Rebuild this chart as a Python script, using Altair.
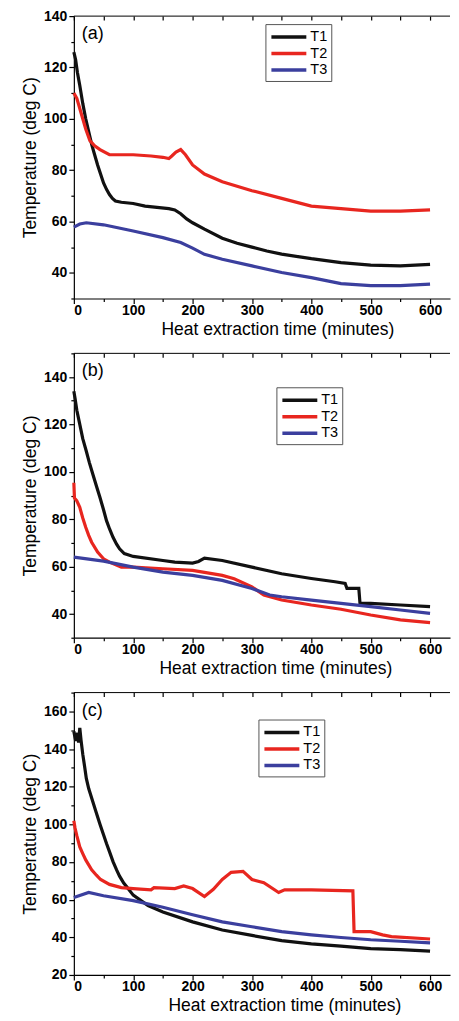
import altair as alt
import pandas as pd

FONT = "Liberation Sans, Arial, sans-serif"
series = ["T1", "T2", "T3"]
colors = ["#111111", "#e8261f", "#3b3f9e"]

# ---------------- Panel (a) ----------------
a_t1_t = [0, 3, 6, 10, 15, 20, 25, 30, 35, 40, 45, 50, 55, 60, 65, 70, 80, 100, 120, 140, 160, 170, 180, 190, 200, 220, 250, 275, 300, 325, 350, 400, 450, 500, 550, 600]
a_t1_v = [126, 123, 118, 113, 106, 100, 95, 90, 86, 82, 78.5, 75, 72.5, 70.5, 69, 68, 67.5, 67, 66, 65.5, 65, 64.5, 63, 61, 59.5, 57, 53.5, 51.5, 50, 48.5, 47.3, 45.5, 44, 43, 42.7, 43.3]
a_t2_t = [0, 5, 10, 15, 20, 27, 35, 44, 60, 80, 100, 130, 150, 160, 165, 172, 180, 188, 200, 220, 250, 300, 350, 400, 450, 500, 550, 600]
a_t2_v = [110, 108, 104, 100, 96, 91.5, 89.5, 88, 86, 86, 86, 85.5, 85, 84.5, 85.5, 87, 88, 86, 82, 78.5, 75.5, 72, 69, 66, 65, 64, 64, 64.5]
a_t3_t = [0, 10, 21, 50, 100, 150, 180, 200, 220, 250, 300, 350, 400, 450, 500, 550, 600]
a_t3_v = [57.8, 59, 59.5, 58.7, 56.3, 53.7, 51.8, 49.6, 47.2, 45.3, 42.7, 40.1, 38.1, 35.8, 35, 35, 35.6]

# ---------------- Panel (b) ----------------
b_t1_t = [0, 2, 5, 10, 15, 21, 26, 32, 38, 44, 50, 55, 60, 66, 72, 77, 85, 100, 150, 170, 200, 210, 220, 250, 300, 350, 400, 440, 457, 460, 480, 482, 500, 550, 600]
b_t1_v = [134, 131, 126, 120, 114, 108.7, 104, 99, 94, 89.2, 84, 79.4, 76, 72.4, 69.5, 67.5, 65.5, 64.3, 62.6, 61.9, 61.5, 62.2, 63.6, 62.6, 59.8, 57, 55, 53.6, 52.9, 50.8, 50.8, 44.5, 44.5, 43.8, 43.1]
b_t2_t = [0, 1, 5, 10, 15, 20, 25, 30, 40, 50, 60, 80, 100, 150, 200, 250, 270, 300, 320, 350, 400, 450, 500, 550, 600]
b_t2_v = [95.4, 89, 87.8, 85, 80.5, 76.6, 73.2, 70.3, 66.1, 63.3, 61.9, 59.8, 59.8, 59.1, 58.4, 56.3, 54.9, 51.5, 48, 45.9, 43.8, 42, 39.6, 37.5, 36.4]
b_t3_t = [0, 50, 100, 150, 200, 250, 300, 330, 350, 400, 450, 500, 550, 600]
b_t3_v = [64, 62.3, 59.8, 57.7, 56.3, 54.2, 50.8, 48, 47.3, 45.9, 44.5, 43.1, 41.7, 40.3]

# ---------------- Panel (c) ----------------
c_t1_t = [0, 3, 6, 8, 10, 12, 15, 18, 21, 25, 30, 37, 44, 50, 55, 60, 66, 72, 77, 84, 90, 100, 125, 150, 200, 250, 300, 350, 400, 450, 500, 550, 600]
c_t1_v = [149.4, 144.3, 148.6, 143.4, 151.2, 145, 137.3, 131, 124.4, 119, 114, 107, 100.1, 94.5, 89.8, 85.5, 80.2, 75.8, 72.5, 68.8, 66.4, 62.4, 56.9, 53.4, 48.2, 43.9, 41, 38.2, 36.5, 35.3, 34, 33.5, 32.7]
c_t2_t = [0, 2, 5, 10, 15, 20, 25, 30, 38, 45, 60, 80, 100, 130, 135, 170, 185, 200, 220, 235, 250, 265, 285, 300, 320, 345, 355, 400, 470, 472, 500, 520, 535, 600]
c_t2_v = [101.9, 98, 94, 88, 84.5, 81.1, 78.5, 75.9, 73, 70.7, 68.1, 66.4, 65.9, 65.2, 66.4, 65.9, 67.3, 65.9, 61.7, 65.5, 70.7, 74.5, 75, 70.7, 69, 63.8, 65.2, 65.2, 64.7, 43, 43, 41.3, 40.4, 39.1]
c_t3_t = [0, 25, 50, 100, 150, 200, 250, 300, 350, 400, 450, 500, 550, 600]
c_t3_v = [61.2, 63.8, 62.1, 59.5, 56, 52, 48.2, 45.6, 43, 41.3, 39.9, 38.7, 37.9, 37]

x_ticks = [0, 50, 100, 150, 200, 250, 300, 350, 400, 450, 500, 550, 600]
x_domain = [0, 633.6]
W = 377


def panel(tag, curves, ydom, height, legend_xy, title_x):
    rows = []
    for name, ts, vs in curves:
        for t, v in zip(ts, vs):
            rows.append({"t": t, "v": v, "s": name})
    df = pd.DataFrame(rows)
    y_ticks = list(range(ydom[0], ydom[1] + 1, 10))
    xs = alt.Scale(domain=x_domain, nice=False, zero=False)
    ys = alt.Scale(domain=ydom, nice=False, zero=False)

    lines = alt.Chart(df).mark_line(strokeWidth=3.2).encode(
        x=alt.X("t:Q", scale=xs, axis=alt.Axis(
            values=x_ticks,
            labelExpr="datum.value % 100 === 0 ? datum.label : ''",
            tickSize={"condition": {"test": "datum.value % 100 === 0", "value": 5}, "value": 3},
            title="Heat extraction time (minutes)", titleX=title_x,
            labelPadding=0, titlePadding=3)),
        y=alt.Y("v:Q", scale=ys, axis=alt.Axis(
            values=y_ticks,
            labelExpr="datum.value % 20 === 0 ? datum.label : ''",
            tickSize={"condition": {"test": "datum.value % 20 === 0", "value": 5}, "value": 3},
            title="Temperature (deg C)", labelPadding=2, titlePadding=4)),
        color=alt.Color("s:N", scale=alt.Scale(domain=series, range=colors),
                        legend=alt.Legend(
                            orient="none", legendX=legend_xy[0], legendY=legend_xy[1],
                            title=None, direction="vertical",
                            symbolType="M-1,0H4", symbolSize=196, symbolStrokeWidth=3.5,
                            labelFontSize=14.5, labelFont=FONT, labelColor="black",
                            labelOffset=23, strokeColor="#555", fillColor="white",
                            padding=4, rowPadding=0.5)),
    )

    label = alt.Chart(pd.DataFrame({"lab": [tag]})).mark_text(
        align="left", baseline="middle", fontSize=18, font=FONT, color="black"
    ).encode(x=alt.value(8), y=alt.value(18), text="lab:N")

    top_line = alt.Chart(pd.DataFrame({"k": [0]})).mark_rule(
        color="black", strokeWidth=1
    ).encode(x=alt.value(0), x2=alt.value(W), y=alt.value(0))

    mirror = alt.Chart(pd.DataFrame({"t": x_ticks})).mark_point(opacity=0).encode(
        x=alt.X("t:Q", scale=xs, axis=alt.Axis(
            orient="top", offset=-4, labels=False, title=None, domain=False,
            tickSize=4, values=x_ticks)),
        y=alt.value(0),
    )

    return alt.layer(lines, label, top_line, mirror).resolve_axis(
        x="independent"
    ).properties(width=W, height=height)


pa = panel("(a)", [("T1", a_t1_t, a_t1_v), ("T2", a_t2_t, a_t2_v), ("T3", a_t3_t, a_t3_v)],
           [30, 140], 283, (192, 8), 204)
pb = panel("(b)", [("T1", b_t1_t, b_t1_v), ("T2", b_t2_t, b_t2_v), ("T3", b_t3_t, b_t3_v)],
           [30, 150], 285, (203, 34), 202)
pc = panel("(c)", [("T1", c_t1_t, c_t1_v), ("T2", c_t2_t, c_t2_v), ("T3", c_t3_t, c_t3_v)],
           [20, 170], 283, (185, 27), 211)

chart = alt.vconcat(pa, pb, pc, spacing=12).resolve_scale(
    x="independent", y="independent", color="independent"
).properties(
    padding={"left": 13, "top": 0, "right": 0, "bottom": 0},
    background="white",
).configure_view(stroke=None).configure_axis(
    labelFont=FONT, labelFontSize=14, labelFontWeight="bold", labelColor="black",
    titleFont=FONT, titleFontSize=17.5, titleFontWeight="normal", titleColor="black",
    domainColor="black", domainWidth=1.2, tickColor="black", tickWidth=1.2, grid=False,
)

chart.save("out.html", embed_options={"renderer": "svg", "actions": False})
